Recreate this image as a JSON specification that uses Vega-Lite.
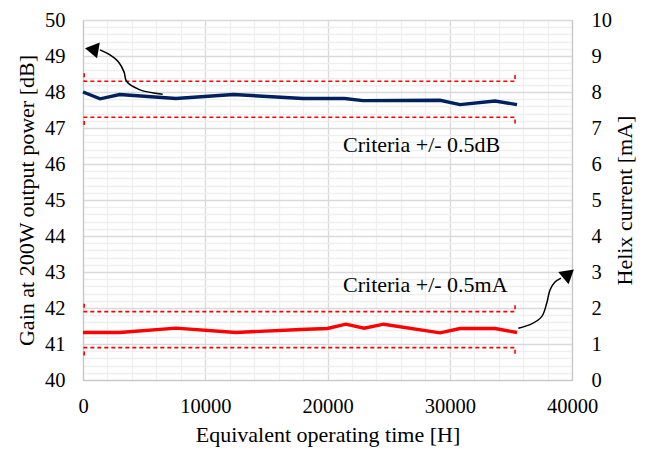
{
  "$schema": "https://vega.github.io/schema/vega-lite/v6.json",
  "width": 489,
  "height": 360,
  "autosize": {"type": "none"},
  "padding": {"left": 83, "top": 20, "right": 73, "bottom": 71},
  "background": "white",
  "config": {
    "view": {"stroke": null},
    "font": "Liberation Serif",
    "axis": {"labelFont": "Liberation Serif", "titleFont": "Liberation Serif", "labelColor": "black", "titleColor": "black", "titleFontWeight": "normal", "labelFontSize": 20.5, "titleFontSize": 22, "ticks": false, "domainColor": "#c6c6c6", "domainWidth": 1.2, "labelOverlap": false, "labelFlush": false}
  },
  "datasets": {
    "gain": [
      {"x": 0, "y": 48.0}, {"x": 1400, "y": 47.81}, {"x": 3000, "y": 47.93},
      {"x": 7600, "y": 47.82}, {"x": 12300, "y": 47.93}, {"x": 18000, "y": 47.82},
      {"x": 21400, "y": 47.82}, {"x": 22900, "y": 47.76}, {"x": 29200, "y": 47.77},
      {"x": 30840, "y": 47.65}, {"x": 33700, "y": 47.75}, {"x": 35500, "y": 47.65}
    ],
    "current": [
      {"x": 0, "y": 1.32}, {"x": 3000, "y": 1.32}, {"x": 7600, "y": 1.44},
      {"x": 12500, "y": 1.32}, {"x": 18300, "y": 1.41}, {"x": 20000, "y": 1.43},
      {"x": 21500, "y": 1.55}, {"x": 23000, "y": 1.44}, {"x": 24600, "y": 1.55},
      {"x": 29200, "y": 1.31}, {"x": 30840, "y": 1.43}, {"x": 33700, "y": 1.43},
      {"x": 35500, "y": 1.32}
    ],
    "blueCrit": [
      {"g": "up", "o": 0, "x": 100, "y": 48.52}, {"g": "up", "o": 1, "x": 100, "y": 48.3},
      {"g": "up", "o": 2, "x": 35340, "y": 48.3}, {"g": "up", "o": 3, "x": 35340, "y": 48.52},
      {"g": "lo", "o": 0, "x": 100, "y": 47.08}, {"g": "lo", "o": 1, "x": 100, "y": 47.3},
      {"g": "lo", "o": 2, "x": 35340, "y": 47.3}, {"g": "lo", "o": 3, "x": 35340, "y": 47.08}
    ],
    "redCrit": [
      {"g": "up", "o": 0, "x": 100, "y": 2.12}, {"g": "up", "o": 1, "x": 100, "y": 1.9},
      {"g": "up", "o": 2, "x": 35340, "y": 1.9}, {"g": "up", "o": 3, "x": 35340, "y": 2.12},
      {"g": "lo", "o": 0, "x": 100, "y": 0.68}, {"g": "lo", "o": 1, "x": 100, "y": 0.9},
      {"g": "lo", "o": 2, "x": 35340, "y": 0.9}, {"g": "lo", "o": 3, "x": 35340, "y": 0.68}
    ],
    "arrows": [
      {"a": 1, "o": 0, "x": 6520, "y": 47.94}, {"a": 1, "o": 1, "x": 4660, "y": 48.06},
      {"a": 1, "o": 2, "x": 3575, "y": 48.29}, {"a": 1, "o": 3, "x": 3355, "y": 48.56},
      {"a": 1, "o": 4, "x": 2890, "y": 48.84}, {"a": 1, "o": 5, "x": 2210, "y": 49.03},
      {"a": 1, "o": 6, "x": 1390, "y": 49.17},
      {"a": 2, "o": 0, "x": 35610, "y": 41.44}, {"a": 2, "o": 1, "x": 36700, "y": 41.56},
      {"a": 2, "o": 2, "x": 37520, "y": 41.76}, {"a": 2, "o": 3, "x": 37930, "y": 42.13},
      {"a": 2, "o": 4, "x": 38200, "y": 42.5}, {"a": 2, "o": 5, "x": 38610, "y": 42.72},
      {"a": 2, "o": 6, "x": 39100, "y": 42.83}
    ],
    "heads": [
      {"a": 1, "x": 810, "y": 49.18},
      {"a": 2, "x": 39650, "y": 42.93}
    ],
    "labels": [
      {"x": 21270, "y": 46.33, "t": "Criteria +/- 0.5dB"},
      {"x": 21270, "y": 42.45, "t": "Criteria +/- 0.5mA"}
    ]
  },
  "encoding": {
    "x": {"field": "x", "type": "quantitative", "scale": {"domain": [0, 40000], "nice": false},
      "axis": {"title": "Equivalent operating time [H]",
        "values": [0,2000,4000,6000,8000,10000,12000,14000,16000,18000,20000,22000,24000,26000,28000,30000,32000,34000,36000,38000,40000],
        "labelExpr": "datum.value % 10000 === 0 ? format(datum.value, 'd') : ''",
        "grid": true,
        "gridColor": {"condition": {"test": "datum.value % 10000 === 0", "value": "#d9d9d9"}, "value": "#efefef"},
        "gridWidth": 1.3,
        "labelPadding": 16, "titlePadding": 8}}
  },
  "layer": [
    {
      "encoding": {
        "y": {"field": "y", "type": "quantitative", "scale": {"domain": [40, 50], "nice": false, "zero": false},
          "axis": {"orient": "left", "title": "Gain at 200W output power [dB]",
            "values": [40,40.2,40.4,40.6,40.8,41,41.2,41.4,41.6,41.8,42,42.2,42.4,42.6,42.8,43,43.2,43.4,43.6,43.8,44,44.2,44.4,44.6,44.8,45,45.2,45.4,45.6,45.8,46,46.2,46.4,46.6,46.8,47,47.2,47.4,47.6,47.8,48,48.2,48.4,48.6,48.8,49,49.2,49.4,49.6,49.8,50],
            "labelExpr": "abs(datum.value - round(datum.value)) < 0.001 ? format(round(datum.value), 'd') : ''",
            "grid": true,
            "gridColor": {"condition": {"test": "abs(datum.value - round(datum.value)) < 0.001", "value": "#d9d9d9"}, "value": "#efefef"},
            "gridWidth": 1.3,
            "labelPadding": 18, "titlePadding": 6}}
      },
      "layer": [
        {
          "data": {"name": "gain"},
          "mark": {"type": "line", "color": "#002060", "strokeWidth": 3.4}
        },
        {
          "data": {"name": "blueCrit"},
          "mark": {"type": "line", "color": "#ff0000", "strokeWidth": 1.6, "strokeDash": [4, 3]},
          "encoding": {
            "detail": {"field": "g"},
            "order": {"field": "o", "type": "quantitative"}
          }
        },
        {
          "data": {"name": "arrows"},
          "mark": {"type": "line", "color": "black", "strokeWidth": 1.5, "interpolate": "catmull-rom"},
          "encoding": {
            "detail": {"field": "a"},
            "order": {"field": "o", "type": "quantitative"}
          }
        },
        {
          "data": {"name": "heads"},
          "transform": [{"filter": "datum.a == 1"}],
          "mark": {"type": "point", "shape": "M1,0L-0.7,-1L-0.7,1Z", "size": 256, "filled": true, "color": "black", "opacity": 1, "angle": 190},
          "encoding": {}
        },
        {
          "data": {"name": "heads"},
          "transform": [{"filter": "datum.a == 2"}],
          "mark": {"type": "point", "shape": "M1,0L-0.7,-1L-0.7,1Z", "size": 256, "filled": true, "color": "black", "opacity": 1, "angle": 320},
          "encoding": {}
        },
        {
          "data": {"name": "labels"},
          "mark": {"type": "text", "align": "left", "baseline": "alphabetic", "font": "Liberation Serif", "fontSize": 22, "color": "black"},
          "encoding": {
            "text": {"field": "t"}
          }
        }
      ]
    },
    {
      "encoding": {
        "y": {"field": "y", "type": "quantitative", "scale": {"domain": [0, 10], "nice": false},
          "axis": {"orient": "right", "title": "Helix current [mA]", "titleAngle": 270, "values": [0,1,2,3,4,5,6,7,8,9,10], "format": "d", "grid": false, "labelPadding": 19, "titlePadding": 25}}
      },
      "layer": [
        {
          "data": {"name": "current"},
          "mark": {"type": "line", "color": "#ff0000", "strokeWidth": 3.4}
        },
        {
          "data": {"name": "redCrit"},
          "mark": {"type": "line", "color": "#ff0000", "strokeWidth": 1.6, "strokeDash": [4, 3]},
          "encoding": {
            "detail": {"field": "g"},
            "order": {"field": "o", "type": "quantitative"}
          }
        }
      ]
    }
  ],
  "resolve": {"scale": {"y": "independent"}}
}
